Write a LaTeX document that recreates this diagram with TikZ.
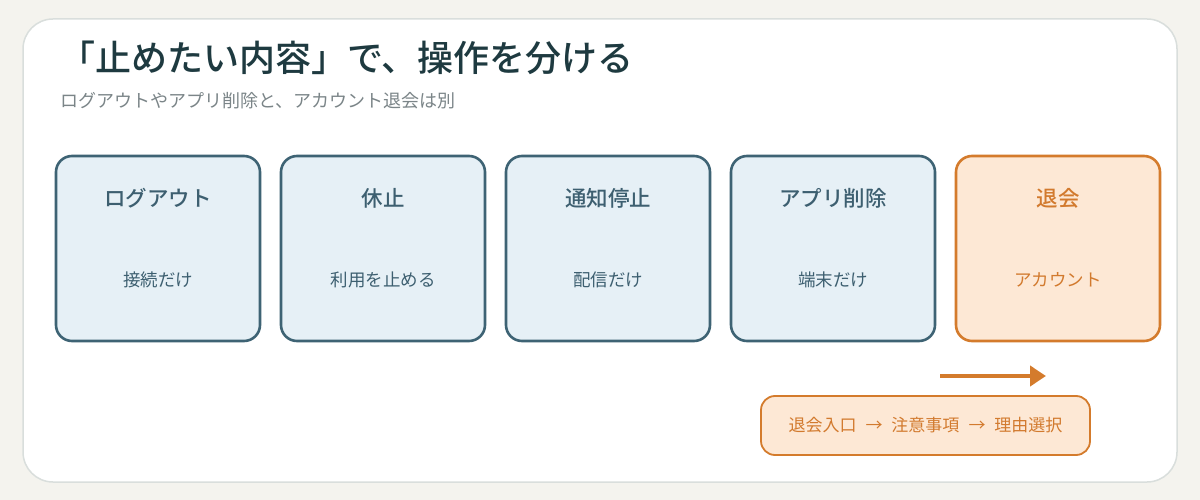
\documentclass[tikz,border=0pt]{standalone}
\usepackage{fontspec}
\setmainfont{Noto Sans CJK JP}
\newfontfamily\medfont{Noto Sans CJK JP Medium}
\usetikzlibrary{arrows.meta}
\definecolor{bgc}{HTML}{F4F3EE}
\definecolor{cardline}{HTML}{D9DEDC}
\definecolor{titlec}{HTML}{1E3A40}
\definecolor{subc}{HTML}{7B8588}
\definecolor{blueline}{HTML}{3E6374}
\definecolor{bluefill}{HTML}{E6F0F6}
\definecolor{bluetext}{HTML}{3D5F70}
\definecolor{orline}{HTML}{D47B2C}
\definecolor{orfill}{HTML}{FDE8D5}
\definecolor{ortext}{HTML}{D27A2E}
\tikzset{
  optbox/.style={draw=blueline, fill=bluefill, line width=2.6pt, rounded corners=16pt,
    minimum width=204pt, minimum height=185pt, inner sep=0pt},
  quitbox/.style={optbox, draw=orline, fill=orfill},
  boxtitle/.style={font=\fontsize{21.5}{24}\medfont, text=bluetext, inner sep=0pt},
  boxsub/.style={font=\fontsize{17.5}{20}\selectfont, text=bluetext, inner sep=0pt},
  flowbox/.style={draw=orline, fill=orfill, line width=1.8pt, rounded corners=14pt,
    minimum width=329pt, minimum height=59pt, inner sep=0pt,
    font=\fontsize{17}{20}\selectfont, text=ortext},
  flowarrow/.style={draw=orline, line width=4pt, -{Triangle[length=16pt,width=20pt]}}
}
\begin{document}
\begin{tikzpicture}[x=1pt,y=-1pt]
\useasboundingbox (0,0) rectangle (1200,500);
\fill[bgc] (0,0) rectangle (1200,500);
\draw[cardline, fill=white, line width=1.5pt, rounded corners=30pt] (23,19) rectangle (1177,482);
\node[anchor=west, inner sep=0pt, text=titlec, font=\fontsize{36}{40}\medfont] (title) at (59,58) {「止めたい内容」で、操作を分ける};
\node[anchor=west, inner sep=0pt, text=subc, font=\fontsize{18}{21}\selectfont] (subtitle) at (60,101) {ログアウトやアプリ削除と、アカウント退会は別};

\node[optbox] (b1) at (158,248.5) {};
\node[optbox] (b2) at (383,248.5) {};
\node[optbox] (b3) at (608,248.5) {};
\node[optbox] (b4) at (833,248.5) {};
\node[quitbox] (b5) at (1058,248.5) {};

\node[boxtitle] (t1) at (158,198) {ログアウト};
\node[boxsub] (s1) at (158,280) {接続だけ};
\node[boxtitle] (t2) at (383,198) {休止};
\node[boxsub] (s2) at (383,280) {利用を止める};
\node[boxtitle] (t3) at (608,198) {通知停止};
\node[boxsub] (s3) at (608,280) {配信だけ};
\node[boxtitle] (t4) at (833,198) {アプリ削除};
\node[boxsub] (s4) at (833,280) {端末だけ};
\node[boxtitle, text=ortext] (t5) at (1058,198) {退会};
\node[boxsub, text=ortext] (s5) at (1058,280) {アカウント};

\coordinate (a1) at (940,376);
\coordinate (a2) at (1046,376);
\draw[flowarrow] (a1) -- (a2);

\node[flowbox] (flow) at (925.5,425.5) {退会入口\hspace{9pt}→\hspace{9pt}注意事項\hspace{9pt}→\hspace{9pt}理由選択};
\end{tikzpicture}
\end{document}
